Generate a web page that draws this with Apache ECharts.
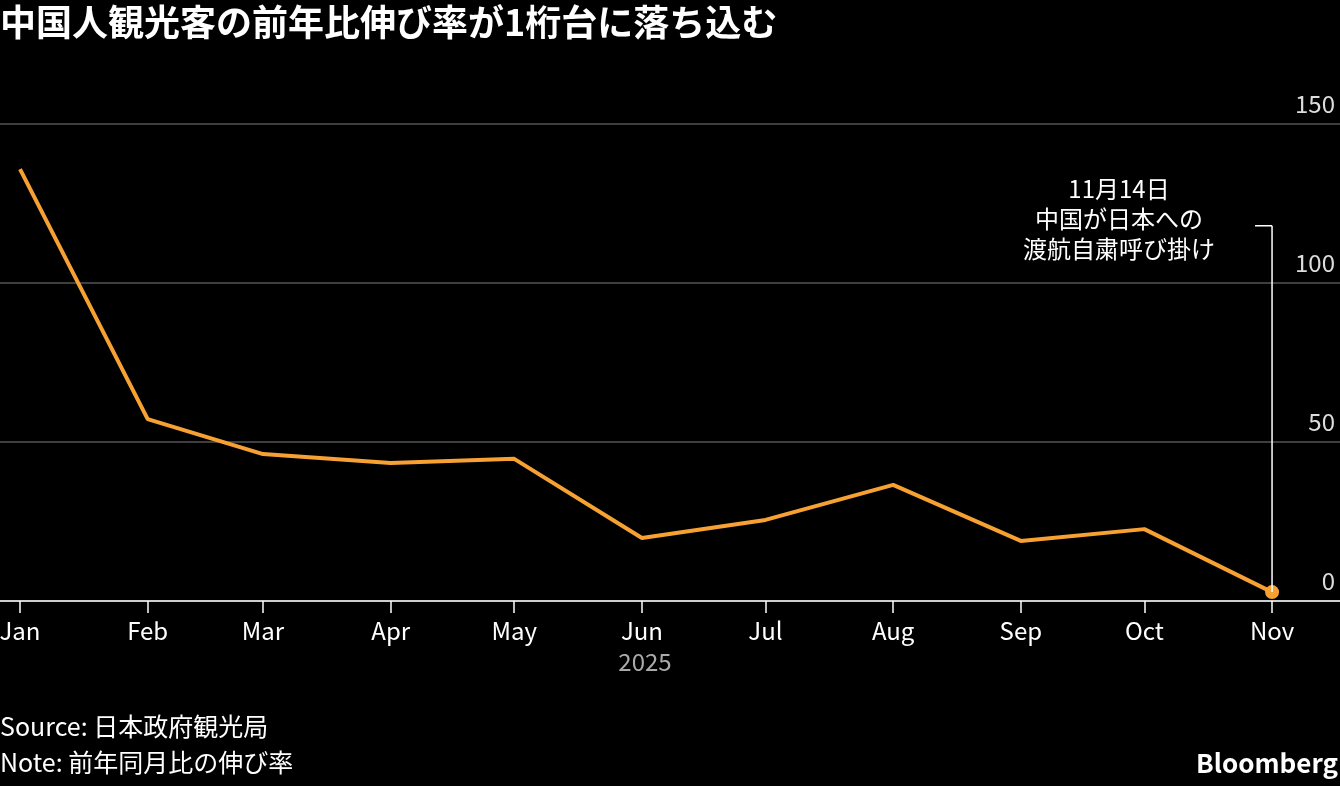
<!DOCTYPE html><html><head><meta charset="utf-8"><script src="https://cdn.jsdelivr.net/npm/echarts@6/dist/echarts.min.js"></script>
<style>body{margin:0;background:#000}#c{width:1340px;height:786px}</style></head><body><div id="c"></div>
<script>
const months=['Jan','Feb','Mar','Apr','May','Jun','Jul','Aug','Sep','Oct','Nov'];
const monthDay=[0,31,59,90,120,151,181,212,243,273,304];
const values=[135.8,57.2,46.2,43.4,44.7,19.8,25.5,36.5,18.9,22.6,2.8];
const yTicks=[0,50,100,150];
const F='"Noto Sans CJK JP","Noto Sans",sans-serif';
const ch=echarts.init(document.getElementById('c'));
const data=monthDay.map((d,i)=>[d,values[i]]);
ch.setOption({backgroundColor:'#000',animation:false,
grid:{left:0,right:0,top:124,bottom:185,outerBoundsMode:'none',containLabel:false},
xAxis:{type:'value',min:-4.86,max:320.5,
 axisLine:{show:true,lineStyle:{color:'#fff',width:1.5}},
 axisTick:{show:true,customValues:monthDay,length:12,lineStyle:{color:'#fff',width:1.5}},
 axisLabel:{customValues:monthDay,formatter:v=>months[monthDay.indexOf(v)]||'',color:'#fff',fontSize:24,fontFamily:F,margin:18},
 splitLine:{show:false}},
yAxis:{type:'value',position:'right',min:0,max:150,interval:50,
 axisLine:{show:false},axisTick:{show:false},
 axisLabel:{inside:true,verticalAlign:'bottom',margin:5,padding:[0,0,8,0],color:'#ddd',fontSize:24,fontFamily:F},
 splitLine:{lineStyle:{color:'#555',width:1.5}}},
series:[{type:'line',data:data,symbol:'none',lineStyle:{color:'#f8a133',width:4},
 markPoint:{symbol:'circle',symbolSize:14,itemStyle:{color:'#f8a133'},label:{show:false},data:[{coord:[304,2.8]}]}}]
});
const p0=ch.convertToPixel({gridIndex:0},[304,2.8]);
const p1=ch.convertToPixel({gridIndex:0},[304,118]);
ch.setOption({graphic:[
 {type:'text',left:0,top:4,style:{text:'中国人観光客の前年比伸び率が1桁台に落ち込む',fill:'#fff',font:'bold 36px '+F}},
 {type:'line',shape:{x1:p0[0],y1:p0[1],x2:p1[0],y2:p1[1]},style:{stroke:'#fff',lineWidth:1.5},z:5},
 {type:'line',shape:{x1:p1[0]-17,y1:p1[1],x2:p1[0],y2:p1[1]},style:{stroke:'#fff',lineWidth:1.5},z:5},
 {type:'text',x:1119,y:174,style:{text:'11月14日\n中国が日本への\n渡航自粛呼び掛け',fill:'#fff',font:'24px '+F,align:'center',lineHeight:30}},
 {type:'text',x:645,y:650,style:{text:'2025',fill:'#aaa',font:'24px '+F,align:'center'}},
 {type:'text',left:0,top:714,style:{text:'Source: 日本政府観光局',fill:'#fff',font:'25px '+F}},
 {type:'text',left:0,top:750,style:{text:'Note: 前年同月比の伸び率',fill:'#fff',font:'25px '+F}},
 {type:'text',right:2,top:750,style:{text:'Bloomberg',fill:'#fff',font:'bold 26px '+F}}
]});
</script></body></html>
